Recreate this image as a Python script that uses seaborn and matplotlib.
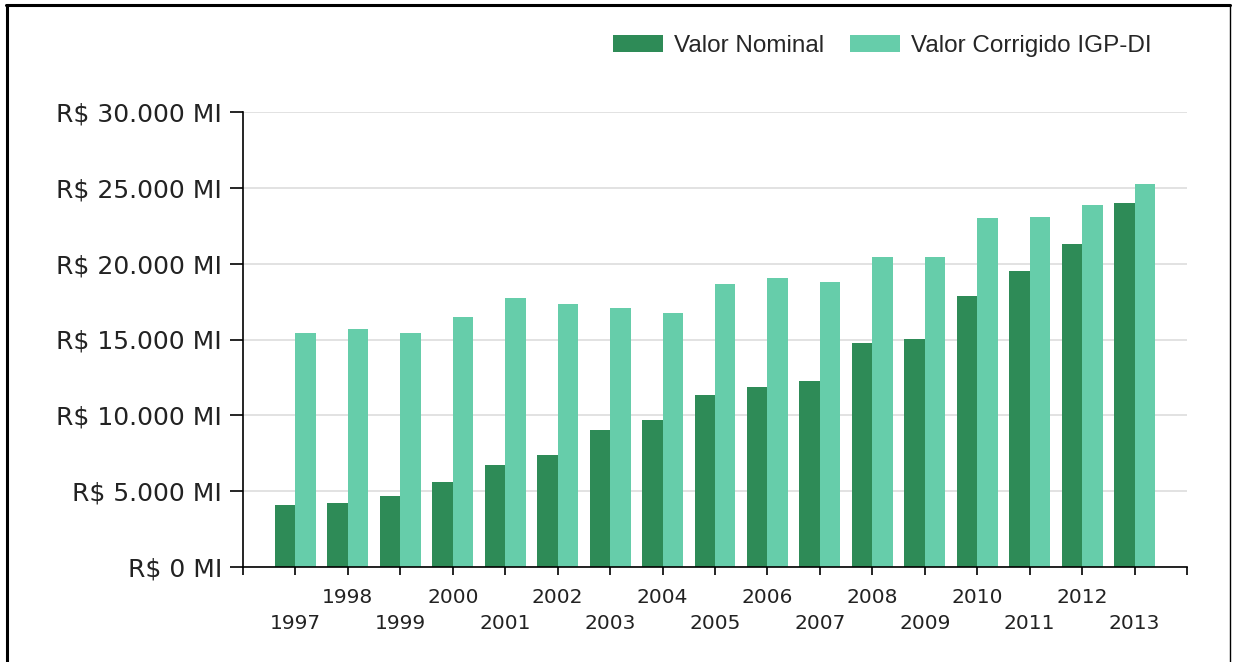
import matplotlib
matplotlib.use("Agg")
import matplotlib.pyplot as plt
from matplotlib.lines import Line2D
import seaborn as sns
import pandas as pd

years = [1997, 1998, 1999, 2000, 2001, 2002, 2003, 2004, 2005,
         2006, 2007, 2008, 2009, 2010, 2011, 2012, 2013]
valor_nominal = [4070, 4200, 4700, 5600, 6750, 7380, 9050, 9690, 11360,
                 11870, 12260, 14790, 15050, 17860, 19530, 21310, 24020]
valor_corrigido = [15450, 15690, 15450, 16460, 17760, 17360, 17100, 16720, 18640,
                   19030, 18770, 20440, 20440, 22990, 23090, 23880, 25270]
series_names = ["Valor Nominal", "Valor Corrigido IGP-DI"]
y_ticks = [0, 5000, 10000, 15000, 20000, 25000, 30000]
y_tick_labels = ["R$ 0 MI", "R$ 5.000 MI", "R$ 10.000 MI", "R$ 15.000 MI",
                 "R$ 20.000 MI", "R$ 25.000 MI", "R$ 30.000 MI"]

df = pd.DataFrame({
    "Ano": [str(y) for y in years] * 2,
    "Valor": valor_nominal + valor_corrigido,
    "Serie": [series_names[0]] * len(years) + [series_names[1]] * len(years),
})

sns.set_theme(style="white")
plt.rcParams["font.family"] = ["DejaVu Sans"]

fig = plt.figure(figsize=(12.33, 6.62), dpi=100)
W, H = 1233, 662
ax = fig.add_axes([243 / W, 1 - 567 / H, (1187 - 243) / W, (567 - 112) / H])

sns.barplot(data=df, x="Ano", y="Valor", hue="Serie", ax=ax,
            palette=["#2E8B57", "#66CDAA"], width=0.78, linewidth=0,
            saturation=1, errorbar=None, legend=True)

ax.set_xlim(-1, len(years))
ax.set_ylim(0, 30000)
ax.set_yticks(y_ticks)
ax.set_yticklabels(y_tick_labels, fontsize=18, color="#222222")
ax.yaxis.grid(True, color="#DDDDDD", linewidth=1.2)
ax.set_axisbelow(True)

xt = list(range(-1, len(years) + 1))
xl = [""] + [(str(y) if i % 2 == 1 else "\n" + str(y)) for i, y in enumerate(years)] + [""]
ax.set_xticks(xt)
ax.set_xticklabels(xl, fontsize=14.5, color="#222222", linespacing=1.45)
ax.set_xlabel("")
ax.set_ylabel("")

for s in ["top", "right"]:
    ax.spines[s].set_visible(False)
for s in ["left", "bottom"]:
    ax.spines[s].set_color("black")
    ax.spines[s].set_linewidth(1.2)

ax.tick_params(axis="y", which="major", direction="out", length=9.5, width=1.2,
               color="black", pad=5.5, left=True)
ax.tick_params(axis="x", which="major", direction="out", length=6, width=1.2,
               color="black", pad=9, bottom=True)

ax.get_legend().remove()
handles, labels = ax.get_legend_handles_labels()
fig.legend(handles[:2], labels[:2], loc="center", bbox_to_anchor=(882 / W, 1 - 46 / H),
           ncol=2, frameon=False, prop={"family": "Liberation Sans", "size": 17.5},
           handlelength=2.06, handleheight=0.7, handletextpad=0.45,
           columnspacing=1.07, borderpad=0, borderaxespad=0)

# outer frame
fig.add_artist(Line2D([6 / W, 1230 / W], [1 - 4.5 / H, 1 - 4.5 / H],
                      transform=fig.transFigure, color="black", linewidth=2.2))
fig.add_artist(Line2D([7 / W, 7 / W], [0, 1 - 4.5 / H],
                      transform=fig.transFigure, color="black", linewidth=2.2))
fig.add_artist(Line2D([1230 / W, 1230 / W], [0, 1 - 4.5 / H],
                      transform=fig.transFigure, color="black", linewidth=1.0))

fig.savefig("out.png", dpi=100)
